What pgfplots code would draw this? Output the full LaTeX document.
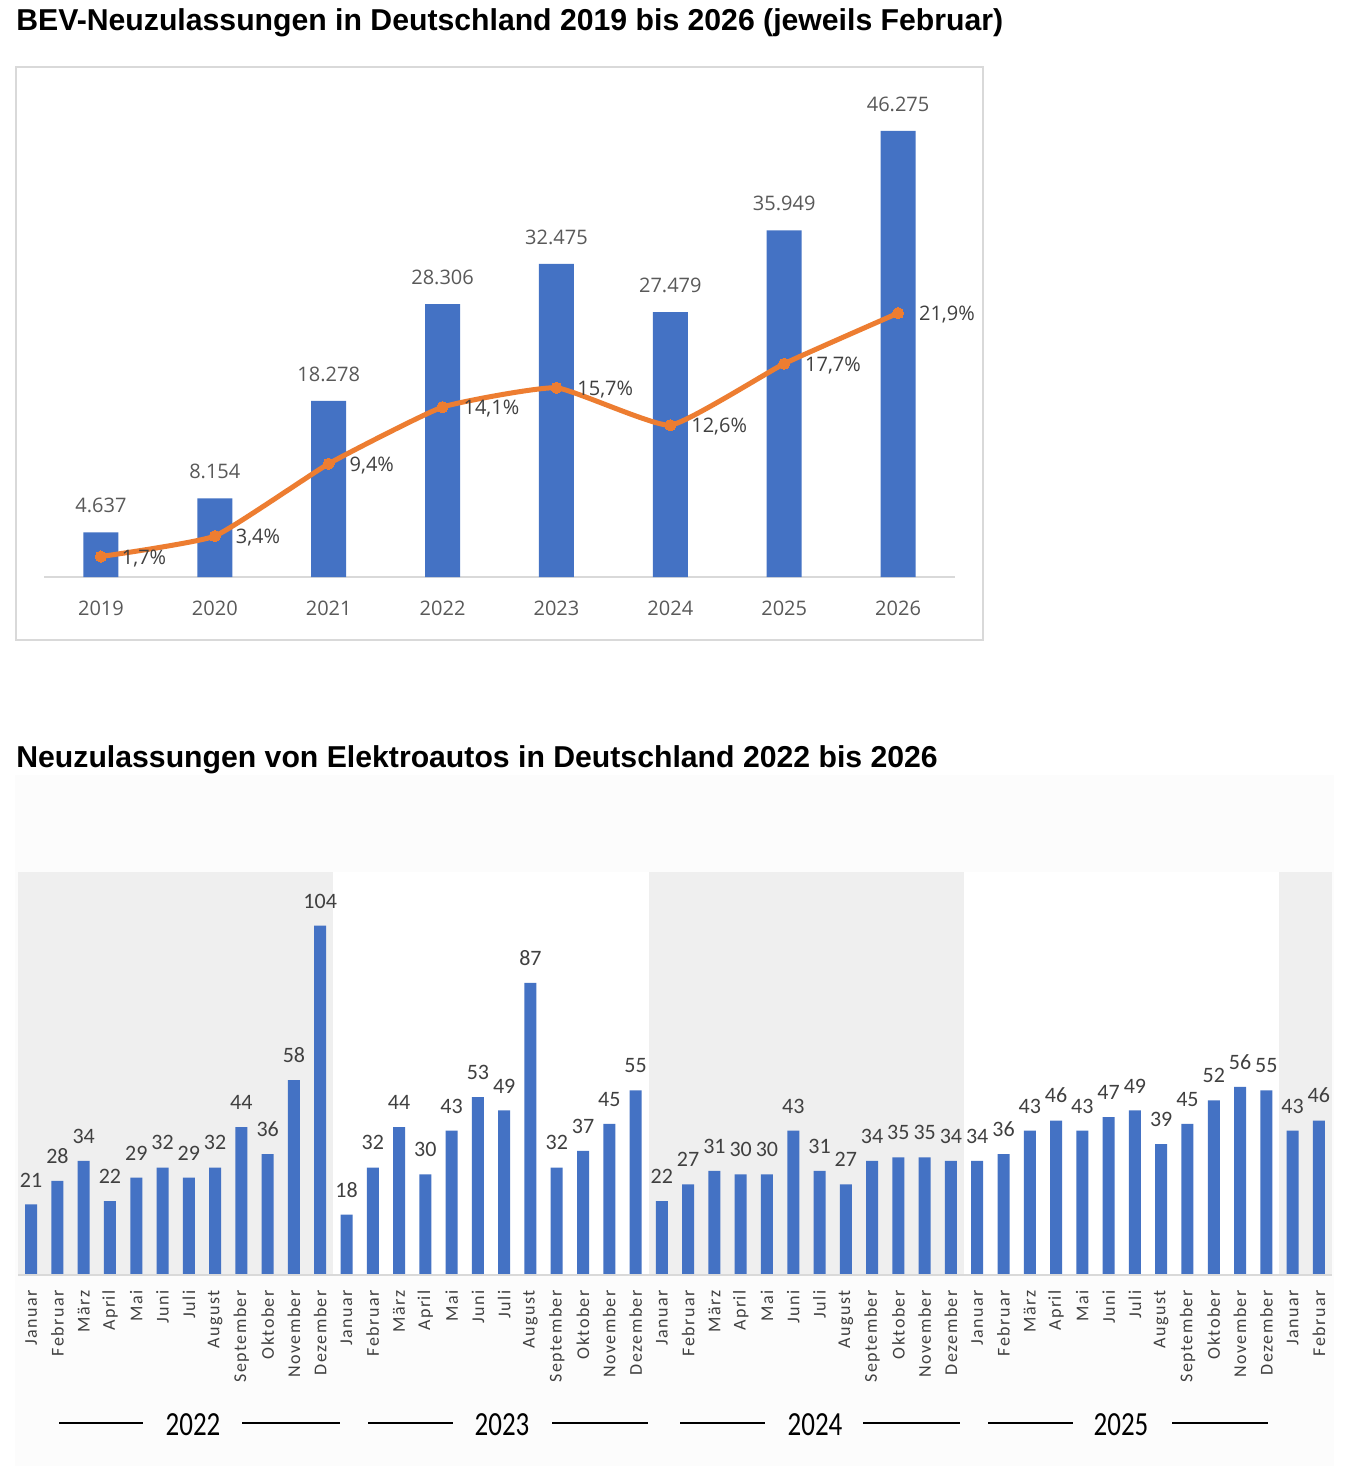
\documentclass[border=0pt]{standalone}
\usepackage{pgfplots}
\usepackage{pgfplotstable}
\pgfplotsset{compat=1.18}
\usepackage{fontspec}
\setmainfont{Liberation Sans}
\newfontfamily\osans{Open Sans}
\newfontfamily\carl{Carlito}
\newfontfamily\carlsp[LetterSpace=8]{Carlito}

\definecolor{barblue}{HTML}{4472C4}
\definecolor{lineorange}{HTML}{ED7D31}
\definecolor{lblgray}{HTML}{595959}
\definecolor{dgray}{HTML}{404040}
\definecolor{gridgray}{HTML}{D9D9D9}
\definecolor{yearshade}{HTML}{EFEFEF}
\definecolor{panelbg}{HTML}{FCFCFC}

\pgfplotstableread{
x val pct
0 4637 1.7
1 8154 3.4
2 18278 9.4
3 28306 14.1
4 32475 15.7
5 27479 12.6
6 35949 17.7
7 46275 21.9
}\topdata

\pgfplotstableread{
x val
0 21
1 28
2 34
3 22
4 29
5 32
6 29
7 32
8 44
9 36
10 58
11 104
12 18
13 32
14 44
15 30
16 43
17 53
18 49
19 87
20 32
21 37
22 45
23 55
24 22
25 27
26 31
27 30
28 30
29 43
30 31
31 27
32 34
33 35
34 35
35 34
36 34
37 36
38 43
39 46
40 43
41 47
42 49
43 39
44 45
45 52
46 56
47 55
48 43
49 46
}\monthdata

\begin{document}
\begin{tikzpicture}
\useasboundingbox (0,0) rectangle (673.5pt,-733pt);
\fill[white] (0,0) rectangle (673.5pt,-733pt);

% ---------- top chart ----------
\node[anchor=base west, inner sep=0pt, font=\bfseries\fontsize{15.1}{17}\selectfont] at (8pt,-15.5pt)
  {BEV-Neuzulassungen in Deutschland 2019 bis 2026 (jeweils Februar)};
\draw[gridgray, line width=0.6pt, fill=white] (8pt,-33.5pt) rectangle (491.5pt,-320pt);

\begin{axis}[
  at={(22pt,-288.5pt)}, anchor=south west,
  scale only axis, width=455.5pt, height=241pt,
  xmin=-0.5, xmax=7.5, ymin=0, ymax=50000,
  axis y line=none, axis x line*=bottom,
  x axis line style={gridgray, line width=0.75pt},
  xtick={0,...,7}, xticklabels={2019,2020,2021,2022,2023,2024,2025,2026},
  major tick length=0pt,
  xticklabel style={font=\osans\fontsize{10}{12}\selectfont, text=lblgray, inner sep=0pt, anchor=north},
  xticklabel shift=12pt,
  clip=false,
]
\addplot[ybar, bar width=17.5pt, fill=barblue, draw=none,
  nodes near coords={\pgfmathprintnumber[fixed, precision=0, 1000 sep={.}, assume math mode=true]{\pgfplotspointmeta}},
  every node near coord/.append style={anchor=south, inner sep=0pt, yshift=9.5pt,
     font=\osans\fontsize{10}{12}\selectfont, text=lblgray}]
  table[x=x, y=val]{\topdata};
\end{axis}

\begin{axis}[
  at={(22pt,-288.5pt)}, anchor=south west,
  scale only axis, width=455.5pt, height=241pt,
  xmin=-0.5, xmax=7.5, ymin=0, ymax=40,
  hide axis, clip=false,
]
\addplot[lineorange, line width=2.5pt, smooth, tension=0.25, mark=*, mark size=2.8pt,
  mark options={fill=lineorange, draw=lineorange, line width=0pt},
  nodes near coords={\pgfmathprintnumber[fixed, fixed zerofill, precision=1, use comma, assume math mode=true]{\pgfplotspointmeta}\%},
  every node near coord/.append style={anchor=west, inner sep=0pt, xshift=10.5pt, yshift=-0.8pt,
     font=\osans\fontsize{10}{12}\selectfont, text=dgray}]
  table[x=x, y=pct]{\topdata};
\end{axis}

% ---------- bottom chart ----------
\node[anchor=base west, inner sep=0pt, font=\bfseries\fontsize{15.1}{17}\selectfont] at (8pt,-383.5pt)
  {Neuzulassungen von Elektroautos in Deutschland 2022 bis 2026};
\fill[panelbg] (7.5pt,-387.5pt) rectangle (667pt,-733pt);

\begin{axis}[
  at={(9pt,-637.5pt)}, anchor=south west,
  scale only axis, width=657pt, height=201.5pt,
  xmin=-0.5, xmax=49.5, ymin=0, ymax=120,
  axis y line=none, axis x line*=bottom,
  x axis line style={gridgray, line width=0.75pt},
  xtick={0,...,49},
  xticklabels={Januar,Februar,März,April,Mai,Juni,Juli,August,September,Oktober,November,Dezember,
               Januar,Februar,März,April,Mai,Juni,Juli,August,September,Oktober,November,Dezember,
               Januar,Februar,März,April,Mai,Juni,Juli,August,September,Oktober,November,Dezember,
               Januar,Februar,März,April,Mai,Juni,Juli,August,September,Oktober,November,Dezember,
               Januar,Februar},
  major tick length=0pt,
  xticklabel style={rotate=90, anchor=east, inner sep=0pt, font=\carlsp\fontsize{9}{10}\selectfont, text=dgray},
  xticklabel shift=7.5pt,
  axis on top, clip=false,
]
\fill[yearshade] (axis cs:-0.5,0) rectangle (axis cs:11.5,120);
\fill[white] (axis cs:11.5,0) rectangle (axis cs:23.5,120);
\fill[yearshade] (axis cs:23.5,0) rectangle (axis cs:35.5,120);
\fill[white] (axis cs:35.5,0) rectangle (axis cs:47.5,120);
\fill[yearshade] (axis cs:47.5,0) rectangle (axis cs:49.5,120);
\addplot[ybar, bar width=6pt, fill=barblue, draw=none,
  nodes near coords={\pgfmathprintnumber[assume math mode=true]{\pgfplotspointmeta}},
  every node near coord/.append style={anchor=south, inner sep=0pt, yshift=8.5pt,
     font=\carl\fontsize{11}{12}\selectfont, text=dgray}]
  table[x=x, y=val]{\monthdata};
\end{axis}

% year labels
\foreach \cx/\la/\lb/\ra/\rb/\yr in {96.5/29.5/71.5/121/170/2022, 251/184/226.5/276/324/2023, 407.5/340/382.5/431.5/480/2024, 560.5/494/536.5/586/634/2025}{
  \draw[black, line width=0.6pt] (\la pt,-711.5pt) -- (\lb pt,-711.5pt);
  \draw[black, line width=0.6pt] (\ra pt,-711.5pt) -- (\rb pt,-711.5pt);
  \node[font=\carl\fontsize{13.5}{15}\selectfont, inner sep=0pt, yscale=1.25] at (\cx pt,-712.5pt) {\yr};
}
\end{tikzpicture}
\end{document}
